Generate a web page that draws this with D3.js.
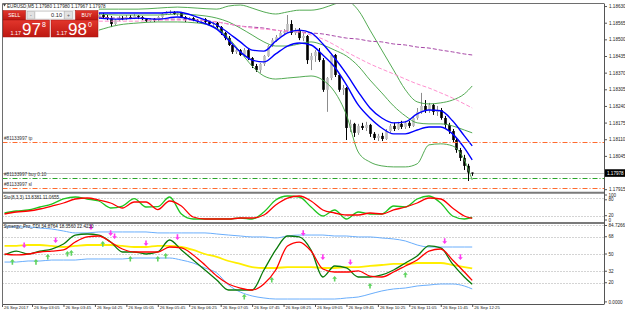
<!DOCTYPE html>
<html>
<head>
<meta charset="utf-8">
<script src="https://cdn.jsdelivr.net/npm/d3@7"></script>
<style>
body { margin: 0; background: #fff; }
svg text { font-family: "Liberation Sans", Arial, sans-serif; }
</style>
</head>
<body>
<svg id="chart" width="625" height="315"></svg>
<script>
// EURUSD M5, 26 Sep 2017

var candleStart = "04:25";   // first candle drawn, one every 5 minutes
// [open, high, low, close]
var candles = [
  [1.18591,1.18599,1.18579,1.18583],[1.18583,1.18603,1.18579,1.18595],[1.18595,1.18603,1.18583,1.18587],
  [1.18587,1.18595,1.18575,1.18583],[1.18583,1.18591,1.18548,1.18560],[1.18560,1.18579,1.18556,1.18575],
  [1.18575,1.18591,1.18571,1.18583],[1.18583,1.18591,1.18575,1.18579],[1.18579,1.18595,1.18575,1.18587],
  [1.18587,1.18595,1.18579,1.18583],[1.18583,1.18599,1.18579,1.18591],[1.18591,1.18595,1.18579,1.18587],
  [1.18587,1.18591,1.18575,1.18579],[1.18579,1.18583,1.18568,1.18571],[1.18571,1.18583,1.18568,1.18579],
  [1.18579,1.18583,1.18568,1.18575],[1.18575,1.18591,1.18571,1.18587],[1.18587,1.18603,1.18583,1.18599],
  [1.18599,1.18610,1.18595,1.18603],[1.18603,1.18614,1.18599,1.18607],[1.18607,1.18610,1.18595,1.18599],
  [1.18599,1.18607,1.18591,1.18603],[1.18603,1.18607,1.18583,1.18587],[1.18587,1.18591,1.18568,1.18579],
  [1.18579,1.18587,1.18575,1.18583],[1.18583,1.18587,1.18571,1.18575],[1.18575,1.18579,1.18564,1.18571],
  [1.18571,1.18583,1.18568,1.18579],[1.18579,1.18583,1.18560,1.18568],[1.18568,1.18571,1.18552,1.18560],
  [1.18560,1.18568,1.18552,1.18564],[1.18564,1.18568,1.18540,1.18548],[1.18548,1.18552,1.18517,1.18525],
  [1.18525,1.18529,1.18497,1.18505],[1.18505,1.18513,1.18474,1.18478],[1.18478,1.18482,1.18443,1.18451],
  [1.18451,1.18466,1.18443,1.18458],[1.18458,1.18462,1.18435,1.18439],[1.18439,1.18466,1.18431,1.18458],
  [1.18458,1.18462,1.18419,1.18427],[1.18427,1.18431,1.18388,1.18396],[1.18396,1.18404,1.18373,1.18380],
  [1.18380,1.18408,1.18369,1.18404],[1.18404,1.18439,1.18396,1.18435],[1.18435,1.18478,1.18431,1.18474],
  [1.18474,1.18505,1.18470,1.18497],[1.18497,1.18517,1.18490,1.18509],[1.18509,1.18532,1.18505,1.18525],
  [1.18525,1.18540,1.18517,1.18532],[1.18532,1.18595,1.18529,1.18560],[1.18560,1.18575,1.18517,1.18525],
  [1.18525,1.18544,1.18517,1.18536],[1.18536,1.18544,1.18497,1.18505],[1.18505,1.18525,1.18493,1.18513],
  [1.18513,1.18517,1.18404,1.18419],[1.18419,1.18447,1.18380,1.18435],[1.18435,1.18458,1.18412,1.18451],
  [1.18451,1.18466,1.18412,1.18419],[1.18419,1.18427,1.18295,1.18303],[1.18303,1.18353,1.18217,1.18349],
  [1.18349,1.18447,1.18341,1.18439],[1.18439,1.18443,1.18353,1.18361],[1.18361,1.18365,1.18295,1.18303],
  [1.18303,1.18322,1.18283,1.18310],[1.18310,1.18314,1.18107,1.18154],[1.18154,1.18186,1.18138,1.18170],
  [1.18170,1.18174,1.18119,1.18135],[1.18135,1.18170,1.18127,1.18162],[1.18162,1.18174,1.18146,1.18154],
  [1.18154,1.18178,1.18142,1.18166],[1.18166,1.18170,1.18119,1.18131],[1.18131,1.18138,1.18107,1.18115],
  [1.18115,1.18131,1.18103,1.18123],[1.18123,1.18135,1.18103,1.18111],[1.18111,1.18150,1.18107,1.18142],
  [1.18142,1.18170,1.18135,1.18162],[1.18162,1.18174,1.18142,1.18150],[1.18150,1.18178,1.18146,1.18170],
  [1.18170,1.18182,1.18150,1.18158],[1.18158,1.18182,1.18150,1.18174],[1.18174,1.18182,1.18154,1.18162],
  [1.18162,1.18201,1.18158,1.18193],[1.18193,1.18232,1.18186,1.18217],[1.18217,1.18291,1.18209,1.18240],
  [1.18240,1.18263,1.18213,1.18224],[1.18224,1.18252,1.18213,1.18244],[1.18244,1.18248,1.18205,1.18217],
  [1.18217,1.18240,1.18201,1.18224],[1.18224,1.18232,1.18186,1.18193],[1.18193,1.18201,1.18154,1.18166],
  [1.18166,1.18174,1.18131,1.18142],[1.18142,1.18150,1.18099,1.18107],[1.18107,1.18115,1.18057,1.18068],
  [1.18068,1.18076,1.18025,1.18037],[1.18037,1.18049,1.17990,1.18006],[1.18006,1.18014,1.17947,1.17980],
  [1.17980,1.17980,1.17967,1.17978]
];

// price-panel indicator lines, sampled at these times
var maTimes = ["04:30","04:55","05:20","05:45","06:10","06:35","07:00","07:15","07:30","07:45",
  "08:00","08:15","08:30","08:45","09:00","09:15","09:30","09:45","10:00","10:15",
  "10:30","10:45","11:00","11:15","11:30","11:45","12:00","12:15","12:25"];
var blueUpper = [1.18603,1.18603,1.18603,1.18603,1.18607,1.18587,1.18556,1.18525,1.18490,1.18458,
  1.18454,1.18493,1.18525,1.18536,1.18525,1.18482,1.18427,1.18365,1.18295,1.18232,
  1.18193,1.18174,1.18178,1.18209,1.18224,1.18221,1.18182,1.18123,1.18084];
var blueLower = [1.18583,1.18579,1.18583,1.18579,1.18587,1.18571,1.18540,1.18497,1.18451,1.18419,
  1.18412,1.18443,1.18474,1.18486,1.18478,1.18439,1.18392,1.18322,1.18244,1.18193,
  1.18154,1.18131,1.18131,1.18146,1.18158,1.18158,1.18131,1.18076,1.18029];
var bbUpper = [1.18618,1.18618,1.18618,1.18622,1.18626,1.18622,1.18618,1.18630,1.18634,1.18622,
  1.18607,1.18599,1.18607,1.18614,1.18614,1.18622,1.18638,1.18650,1.18614,1.18536,
  1.18458,1.18380,1.18303,1.18256,1.18248,1.18252,1.18263,1.18287,1.18318];
var bbMiddle = [1.18599,1.18595,1.18595,1.18595,1.18599,1.18595,1.18583,1.18568,1.18544,1.18517,
  1.18490,1.18474,1.18474,1.18482,1.18490,1.18478,1.18458,1.18435,1.18396,1.18341,
  1.18291,1.18240,1.18201,1.18174,1.18170,1.18170,1.18162,1.18146,1.18135];
var bbLower = [1.18536,1.18556,1.18564,1.18568,1.18568,1.18564,1.18544,1.18505,1.18451,1.18396,
  1.18357,1.18345,1.18349,1.18353,1.18357,1.18341,1.18295,1.18205,1.18060,1.18021,
  1.18006,1.18002,1.18002,1.18014,1.18088,1.18092,1.18084,1.18029,1.17951];
var maPink = [1.18571,1.18571,1.18571,1.18575,1.18575,1.18575,1.18568,1.18560,1.18552,1.18544,
  1.18540,1.18536,1.18532,1.18529,1.18517,1.18501,1.18478,1.18451,1.18427,1.18404,
  1.18384,1.18365,1.18345,1.18326,1.18310,1.18291,1.18271,1.18248,1.18232];
var maPurple = [1.18587,1.18583,1.18583,1.18579,1.18579,1.18575,1.18568,1.18560,1.18552,1.18548,
  1.18544,1.18536,1.18532,1.18529,1.18525,1.18521,1.18513,1.18505,1.18501,1.18493,
  1.18490,1.18482,1.18478,1.18470,1.18466,1.18458,1.18451,1.18443,1.18439];

// order lines
var orderLabels = ["#81133997 tp", "#81133997 buy 0.10", "#81133997 sl"];
var orderPrices = [1.18100, 1.17960, 1.17920];
var bidPrice = 1.17978;

// oscillators, sampled every 15 minutes
var oscTimes = ["02:30","02:45","03:00","03:15","03:30","03:45","04:00","04:15","04:30","04:45",
  "05:00","05:15","05:30","05:45","06:00","06:15","06:30","06:45","07:00","07:15",
  "07:30","07:45","08:00","08:15","08:30","08:45","09:00","09:15","09:30","09:45",
  "10:00","10:15","10:30","10:45","11:00","11:15","11:30","11:45","12:00","12:15","12:25"];
var stochMain = [29.3,36.2,39.7,50,60.3,77.6,84.5,77.6,70.7,46.6,
  53.4,79,50,51,84.5,25.9,8.6,8.6,8.6,8.6,
  12.1,8.6,32.8,74.1,87.9,84.5,50,19,39.7,8.6,
  32.8,25.9,25.9,53.4,50,77.6,87.9,63.8,19,8.6, 13.8381];
var stochSignal = [25.9,32.8,36.2,43.1,53.4,63.8,77.6,81,74.1,63.8,
  46.6,67.2,67.2,41,70.7,53.4,15.5,8.6,8.6,8.6,
  12.1,12.1,22.4,56.9,81,87.9,70.7,39.7,29.3,22.4,
  22.4,29.3,25.9,39.7,50,63.8,81,77.6,46.6,19, 11.0655];

var tdiUpper = [78.2,78.2,78.2,77.1,76.1,74.0,72.0,72.0,73.0,73.0,
  73.0,73.0,73.0,72.0,72.0,72.0,72.0,72.0,70.9,69.8,
  68.8,67.8,67.8,66.7,68.8,69.8,69.8,69.8,68.8,68.8,
  67.8,67.8,66.7,65.7,63.6,59.4,57.3,57.3,57.3,57.3, 57.3];
var tdiLower = [41.6,41.6,42.7,42.7,43.7,43.7,43.7,44.8,44.8,44.8,
  44.8,45.8,45.8,45.8,45.8,43.7,40.6,35.4,30.2,17.6,
  10.3,6.2,4.1,3.0,3.0,3.0,3.0,3.0,3.0,4.1,
  5.1,8.2,11.4,13.5,14.5,16.6,17.6,18.7,18.7,16.6, 13.5];
var tdiBase = [58.4,58.4,59.4,59.4,58.4,57.3,58.4,59.4,59.4,59.4,
  58.4,57.3,57.3,58.4,58.4,57.3,54.2,50.0,46.9,42.7,
  39.6,36.4,35.4,35.4,36.4,36.4,36.4,35.4,35.4,36.4,
  36.4,37.5,38.5,39.6,39.6,40.6,40.6,40.6,38.5,36.4, 34.8764];
var tdiRsi = [49.0,53.1,50.0,53.1,55.2,60.4,69.8,70.9,69.8,62.5,
  52.1,52.1,50.0,52.1,64.6,54.2,43.7,33.3,22.9,12.4,
  12.4,12.4,33.3,54.2,68.8,67.8,54.2,26.0,37.5,35.4,
  26.0,26.0,28.1,33.3,40.6,47.9,58.4,56.3,39.6,26.0, 18.3560];
var tdiSignal = [50.0,49.0,50.0,52.1,53.1,54.2,62.5,67.8,68.8,62.5,
  55.2,52.1,52.1,52.1,57.3,56.3,49.0,38.5,27.0,18.7,
  14.5,12.4,18.7,33.3,58.4,62.5,53.1,34.3,31.2,31.2,
  32.3,27.0,26.0,31.2,37.5,43.7,53.1,55.2,43.7,31.2, 22.4230];

var sellArrows = [["02:55",59.4],["03:35",64.6],["04:20",78.2],["04:45",72.0],["04:50",68.8],["05:30",61.5],
  ["06:10",67.8],["08:50",72.0],["09:15",46.9],["09:50",41.6],["11:50",63.6],["12:10",46.9]];
var buyArrows = [["02:40",41.6],["03:10",41.6],["03:25",46.9],["03:50",50.0],["03:55",51.0],["04:35",60.4],
  ["05:10",44.8],["05:45",44.8],["05:55",47.9],["07:35",5.1],["08:10",22.9],["09:30",23.9],["10:15",16.6],["11:00",28.1]];

// axis labels (1.17980 sits under the bid box, so it is left out)
var priceTicks = [1.18630,1.18565,1.18500,1.18435,1.18370,1.18305,1.18240,1.18175,1.18110,1.18045,1.17915];
var stochTicks = [100, 80, 20, 0];
var stochLevels = [80, 20];
var tdiTicks = [[84.7266,"84.7266"],[68,"68"],[50,"50"],[32,"32"],[20,"20"],[0,"0.0000"]];
var tdiLevels = [80, 68, 50, 32, 20];
var timeTicks = ["03:05","03:45","04:25","05:05","05:45","06:25","07:05","07:45",
  "08:25","09:05","09:45","10:25","11:05","11:45","12:25"];

var headerText = "EURUSD,M5  1.17980 1.17980 1.17967 1.17978";
var stochTitle = "Sto(8,3,3) 13.8381 11.0655";
var tdiTitle = "Synergy_Pro_TDI 34.8764 18.3560 22.4230";
var lots = "0.10";
var sellQuote = ["1.17", "97", "8"];
var buyQuote = ["1.17", "98", "0"];

// ---------------------------------------------------------------

var parse = d3.timeParse("%Y-%m-%d %H:%M");
function tm(s) { return parse("2017-09-26 " + s); }

var left = 2.5, right = 604;
var main = {top: 3.5, bottom: 192},
    sto = {top: 193.5, bottom: 222},
    tdi = {top: 224, bottom: 304};

var x = d3.scaleTime().domain([tm("02:25"), tm("12:25")]).range([0.6, 472.2]);
var y = d3.scaleLinear().domain([1.17904, 1.18640]).range([192, 3.5]);
var yS = d3.scaleLinear().domain([0, 100]).range([221.5, 192.5]);
var yT = d3.scaleLinear().domain([0, 84.7266]).range([301.9, 301.9 - 84.7266 * 0.958]);

var svg = d3.select("#chart");
var defs = svg.append("defs");

function clip(id, p) {
  defs.append("clipPath").attr("id", id).append("rect")
    .attr("x", left).attr("y", p.top)
    .attr("width", right - left).attr("height", p.bottom - p.top);
}
clip("clipMain", main);
clip("clipSto", sto);
clip("clipTdi", tdi);

var grad = defs.append("linearGradient").attr("id", "red")
  .attr("x1", 0).attr("y1", 0).attr("x2", 0).attr("y2", 1);
grad.append("stop").attr("offset", "0%").attr("stop-color", "#e2362c");
grad.append("stop").attr("offset", "100%").attr("stop-color", "#bd1711");

function lineOf(scale, times) {
  return d3.line()
    .x(function(d, i) { return x(tm(times[i])); })
    .y(function(d) { return scale(d); })
    .curve(d3.curveMonotoneX);
}

// ---------- main panel ----------
var gMain = svg.append("g").attr("clip-path", "url(#clipMain)");

// bid line
gMain.append("line")
  .attr("x1", left).attr("x2", right)
  .attr("y1", Math.round(y(bidPrice)) + 0.5).attr("y2", Math.round(y(bidPrice)) + 0.5)
  .attr("stroke", "#c4c4c4");

// candles
var bars = gMain.append("g").selectAll("g").data(candles).enter().append("g");
function cx(i) { return Math.round(x(d3.timeMinute.offset(tm(candleStart), 5 * i))) + 0.5; }
bars.append("line")
  .attr("x1", function(d, i) { return cx(i); })
  .attr("x2", function(d, i) { return cx(i); })
  .attr("y1", function(d) { return y(d[1]); })
  .attr("y2", function(d) { return y(d[2]); })
  .attr("stroke", function(d) { return d[3] >= d[0] ? "#8c8c8c" : "#000"; })
  .attr("stroke-width", 1);
bars.append("rect")
  .attr("x", function(d, i) { return cx(i) - 1.3; })
  .attr("width", 2.6)
  .attr("y", function(d) { return y(Math.max(d[0], d[3])); })
  .attr("height", function(d) { return Math.max(1, Math.abs(y(d[0]) - y(d[3]))); })
  .attr("fill", function(d) { return d[3] >= d[0] ? "#bdbdbd" : "#000"; });

// indicators
var lm = lineOf(y, maTimes);
[bbUpper, bbMiddle, bbLower].forEach(function(s) {
  gMain.append("path").attr("d", lm(s)).attr("fill", "none")
    .attr("stroke", "#3fa03f").attr("stroke-width", 0.9);
});
gMain.append("path").attr("d", lm(maPurple)).attr("fill", "none")
  .attr("stroke", "#a646a6").attr("stroke-width", 1).attr("stroke-dasharray", "4,2");
gMain.append("path").attr("d", lm(maPink)).attr("fill", "none")
  .attr("stroke", "#ff8fcf").attr("stroke-width", 1).attr("stroke-dasharray", "4,2");
[blueUpper, blueLower].forEach(function(s) {
  gMain.append("path").attr("d", lm(s)).attr("fill", "none")
    .attr("stroke", "#0000ff").attr("stroke-width", 1.4);
});

// orders
var orderColors = ["#ff6a2e", "#2aa52a", "#ff6a2e"];
orderPrices.forEach(function(p, i) {
  var yy = Math.round(y(p)) + 0.5;
  gMain.append("line").attr("x1", left).attr("x2", right).attr("y1", yy).attr("y2", yy)
    .attr("stroke", orderColors[i]).attr("stroke-dasharray", "5,2,1,2");
  gMain.append("text").attr("x", 4).attr("y", yy - 2.5)
    .attr("font-size", "4.7px").attr("fill", "#333").text(orderLabels[i]);
});

// header
svg.append("path").attr("d", "M3,4 L6,4 L4.5,6.5 Z").attr("fill", "#444");
svg.append("text").attr("x", 7).attr("y", 8).attr("font-size", "4.6px").attr("fill", "#222").text(headerText);

// ---------- stochastic ----------
var gSto = svg.append("g").attr("clip-path", "url(#clipSto)");
stochLevels.forEach(function(v) {
  gSto.append("line").attr("x1", left).attr("x2", right)
    .attr("y1", Math.round(yS(v)) + 0.5).attr("y2", Math.round(yS(v)) + 0.5)
    .attr("stroke", "#a8a8a8").attr("stroke-dasharray", "1,2");
});
var ls = lineOf(yS, oscTimes);
gSto.append("path").attr("d", ls(stochMain)).attr("fill", "none").attr("stroke", "#1fc41f").attr("stroke-width", 1.3);
gSto.append("path").attr("d", ls(stochSignal)).attr("fill", "none").attr("stroke", "#ff0000").attr("stroke-width", 1.3);
svg.append("text").attr("x", 3.5).attr("y", 199).attr("font-size", "4.6px").attr("fill", "#222").text(stochTitle);

// ---------- TDI ----------
var gTdi = svg.append("g").attr("clip-path", "url(#clipTdi)");
tdiLevels.forEach(function(v) {
  gTdi.append("line").attr("x1", left).attr("x2", right)
    .attr("y1", Math.round(yT(v)) + 0.5).attr("y2", Math.round(yT(v)) + 0.5)
    .attr("stroke", "#a8a8a8").attr("stroke-dasharray", "1,2");
});
var lt = lineOf(yT, oscTimes);
[tdiUpper, tdiLower].forEach(function(s) {
  gTdi.append("path").attr("d", lt(s)).attr("fill", "none").attr("stroke", "#6aaefc").attr("stroke-width", 1);
});
gTdi.append("path").attr("d", lt(tdiBase)).attr("fill", "none").attr("stroke", "#ffee00").attr("stroke-width", 1.8);
gTdi.append("path").attr("d", lt(tdiRsi)).attr("fill", "none").attr("stroke", "#0a7a0a").attr("stroke-width", 1.3);
gTdi.append("path").attr("d", lt(tdiSignal)).attr("fill", "none").attr("stroke", "#ff0000").attr("stroke-width", 1.3);

var upArrow = "M0,-3 L2.4,-0.2 L0.8,-0.2 L0.8,2.6 L-0.8,2.6 L-0.8,-0.2 L-2.4,-0.2 Z";
var downArrow = "M0,3 L2.4,0.2 L0.8,0.2 L0.8,-2.6 L-0.8,-2.6 L-0.8,0.2 L-2.4,0.2 Z";
gTdi.selectAll(".sell").data(sellArrows).enter().append("path")
  .attr("d", downArrow).attr("fill", "#ff3cf0")
  .attr("transform", function(d) { return "translate(" + x(tm(d[0])) + "," + yT(d[1]) + ")"; });
gTdi.selectAll(".buy").data(buyArrows).enter().append("path")
  .attr("d", upArrow).attr("fill", "#5fd35f")
  .attr("transform", function(d) { return "translate(" + x(tm(d[0])) + "," + yT(d[1]) + ")"; });
svg.append("text").attr("x", 3.5).attr("y", 228.3).attr("font-size", "4.6px").attr("fill", "#222").text(tdiTitle);

// ---------- frame ----------
var frame = svg.append("g");
frame.append("line").attr("x1", left).attr("x2", right).attr("y1", 3.5).attr("y2", 3.5).attr("stroke", "#6e6e6e");
frame.append("line").attr("x1", left).attr("x2", left).attr("y1", 3.5).attr("y2", 304.5).attr("stroke", "#6e6e6e");
frame.append("line").attr("x1", right + 0.5).attr("x2", right + 0.5).attr("y1", 3.5).attr("y2", 304.5).attr("stroke", "#555");
frame.append("line").attr("x1", left).attr("x2", right).attr("y1", 304.5).attr("y2", 304.5).attr("stroke", "#555");
[192.8, 223].forEach(function(yy) {
  frame.append("line").attr("x1", left).attr("x2", right).attr("y1", yy).attr("y2", yy)
    .attr("stroke", "#7a7a7a").attr("stroke-width", 2);
});

// price axis
var axisP = svg.append("g").attr("transform", "translate(" + (right + 0.5) + ",0)")
  .call(d3.axisRight(y).tickValues(priceTicks).tickFormat(d3.format(".5f")).tickSize(2.5).tickPadding(2));
axisP.select(".domain").remove();
axisP.selectAll("text").attr("font-size", "4.6px").attr("font-family", "Liberation Sans, Arial").attr("fill", "#222");
axisP.selectAll("line").attr("stroke", "#555");

// current price box
var by = y(bidPrice);
svg.append("rect").attr("x", right + 1).attr("y", by - 3.8).attr("width", 20).attr("height", 7.6).attr("fill", "#000");
svg.append("text").attr("x", right + 3).attr("y", by).attr("dy", "0.35em")
  .attr("font-size", "4.6px").attr("fill", "#fff").text(d3.format(".5f")(bidPrice));

// oscillator labels
function sideLabels(list, scale, p) {
  list.forEach(function(d) {
    var yy = Math.min(Math.max(scale(d[0]), p.top), p.bottom);
    svg.append("line").attr("x1", right + 0.5).attr("x2", right + 3).attr("y1", yy).attr("y2", yy).attr("stroke", "#555");
    svg.append("text").attr("x", right + 4.5).attr("y", yy).attr("dy", "0.35em")
      .attr("font-size", "4.6px").attr("fill", "#222").text(d[1]);
  });
}
// 100 and 80 sit a few pixels apart here, nudge them so they stay readable
sideLabels([[100, "100"]], yS, {top: 195, bottom: 195});
sideLabels([[80, "80"]], yS, {top: 199.8, bottom: 222});
sideLabels([[20, "20"], [0, "0"]], yS, {top: 193, bottom: 220});
sideLabels(tdiTicks, yT, {top: 225.5, bottom: 303});

// time axis
var axisT = svg.append("g").attr("transform", "translate(0,304.5)")
  .call(d3.axisBottom(x).tickValues(timeTicks.map(tm)).tickFormat(d3.timeFormat("%d %b %H:%M")).tickSize(2.5));
axisT.select(".domain").remove();
axisT.selectAll("line").attr("stroke", "#555");
axisT.selectAll("text").attr("text-anchor", "start").attr("x", 1.5).attr("y", 1.5).attr("dy", "0.71em")
  .attr("font-size", "4.3px").attr("font-family", "Liberation Sans, Arial").attr("fill", "#222");
svg.append("line").attr("x1", 2.5).attr("x2", 2.5).attr("y1", 304.5).attr("y2", 307).attr("stroke", "#555");
svg.append("text").attr("x", 4).attr("y", 306).attr("dy", "0.71em").attr("font-size", "4.3px").attr("fill", "#222")
  .text(d3.timeFormat("%d %b %Y")(tm("02:25")));

// ---------- one-click trading panel ----------
var panel = svg.append("g");
panel.append("rect").attr("x", 25).attr("y", 10.5).attr("width", 50.5).attr("height", 9.5)
  .attr("fill", "#f2f2f2").attr("stroke", "#cfcfcf").attr("stroke-width", 0.5);
panel.append("rect").attr("x", 3).attr("y", 10.5).attr("width", 22.5).attr("height", 9.5)
  .attr("fill", "url(#red)").attr("stroke", "#a41410").attr("stroke-width", 0.5);
panel.append("rect").attr("x", 75.5).attr("y", 10.5).attr("width", 22.5).attr("height", 9.5)
  .attr("fill", "url(#red)").attr("stroke", "#a41410").attr("stroke-width", 0.5);
panel.append("rect").attr("x", 3).attr("y", 20).attr("width", 46.5).attr("height", 17)
  .attr("fill", "url(#red)").attr("stroke", "#a41410").attr("stroke-width", 0.5);
panel.append("rect").attr("x", 51).attr("y", 20).attr("width", 47).attr("height", 17)
  .attr("fill", "url(#red)").attr("stroke", "#a41410").attr("stroke-width", 0.5);
panel.append("rect").attr("x", 27).attr("y", 11.5).attr("width", 7.5).attr("height", 7.5)
  .attr("fill", "#e2e2e2").attr("stroke", "#a9a9a9").attr("stroke-width", 0.5);
panel.append("rect").attr("x", 64.5).attr("y", 11.5).attr("width", 8).attr("height", 7.5)
  .attr("fill", "#e2e2e2").attr("stroke", "#a9a9a9").attr("stroke-width", 0.5);
panel.append("rect").attr("x", 35).attr("y", 11.5).attr("width", 29).attr("height", 7.5)
  .attr("fill", "#fff").attr("stroke", "#c4c4c4").attr("stroke-width", 0.5);
panel.append("text").attr("x", 30.75).attr("y", 17).attr("text-anchor", "middle").attr("font-size", "5px").attr("fill", "#555").text("-");
panel.append("text").attr("x", 68.5).attr("y", 17).attr("text-anchor", "middle").attr("font-size", "5px").attr("fill", "#555").text("+");
panel.append("text").attr("x", 62).attr("y", 17.3).attr("text-anchor", "end").attr("font-size", "5.6px").attr("fill", "#222").text(lots);
panel.append("text").attr("x", 14.3).attr("y", 17.2).attr("text-anchor", "middle").attr("font-size", "5px").attr("fill", "#fff").text("SELL");
panel.append("text").attr("x", 86.7).attr("y", 17.2).attr("text-anchor", "middle").attr("font-size", "5px").attr("fill", "#fff").text("BUY");

function quote(q, x0) {
  panel.append("text").attr("x", x0).attr("y", 34.5).attr("font-size", "5.4px").attr("fill", "#fff").text(q[0]);
  panel.append("text").attr("x", x0 + 11.5).attr("y", 34.5).attr("font-size", "17px").attr("fill", "#fff").text(q[1]);
  panel.append("text").attr("x", x0 + 31.5).attr("y", 26.5).attr("font-size", "7px").attr("fill", "#fff").text(q[2]);
}
quote(sellQuote, 10.5);
quote(buyQuote, 56.5);
</script>
</body>
</html>
